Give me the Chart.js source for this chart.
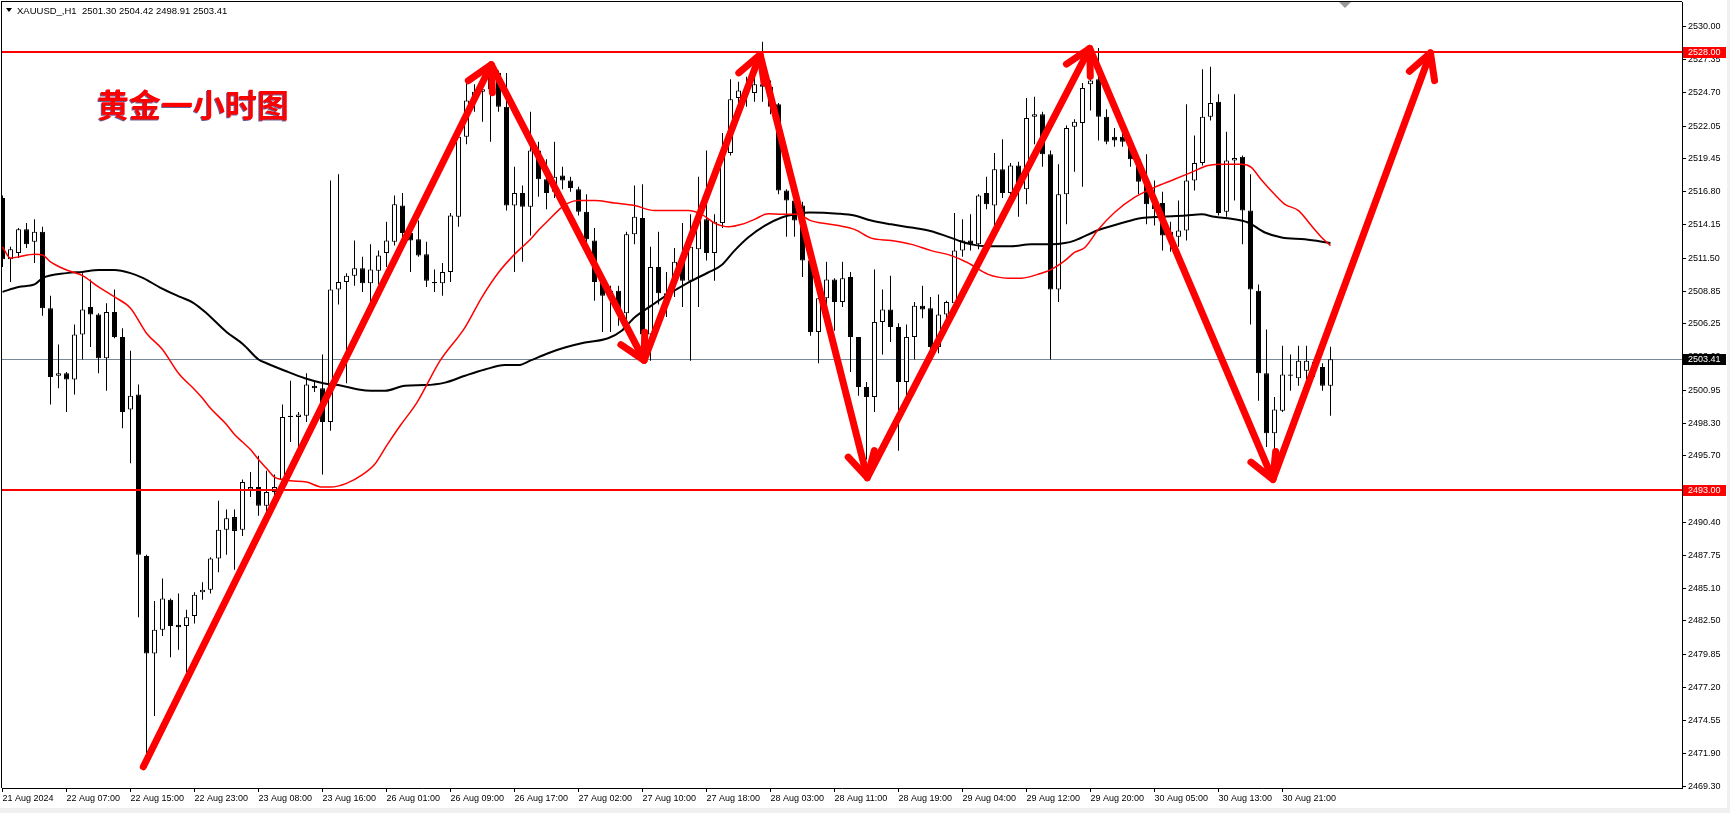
<!DOCTYPE html>
<html>
<head>
<meta charset="utf-8">
<script src="https://cdn.jsdelivr.net/npm/chart.js@4.4.1/dist/chart.umd.min.js"></script>
<style>
  html, body { margin: 0; padding: 0; background: #f0f0f0; }
  #wrap { width: 1730px; height: 813px; }
</style>
</head>
<body>
<div id="wrap"><canvas id="chart" width="1730" height="813"></canvas></div>
<script>
// ── Data ─────────────────────────────────────────────────────
const symbol = 'XAUUSD_,H1';
const title = '黄金一小时图';

const timeLabels = ['21 Aug 2024', '22 Aug 07:00', '22 Aug 15:00', '22 Aug 23:00', '23 Aug 08:00', '23 Aug 16:00',
  '26 Aug 01:00', '26 Aug 09:00', '26 Aug 17:00', '27 Aug 02:00', '27 Aug 10:00', '27 Aug 18:00', '28 Aug 03:00',
  '28 Aug 11:00', '28 Aug 19:00', '29 Aug 04:00', '29 Aug 12:00', '29 Aug 20:00', '30 Aug 05:00', '30 Aug 13:00',
  '30 Aug 21:00'];
const barsPerLabel = 8;

const priceTicks = [2530.00, 2527.35, 2524.70, 2522.05, 2519.45, 2516.80, 2514.15, 2511.50, 2508.85, 2506.25,
  2503.60, 2500.95, 2498.30, 2495.70, 2493.05, 2490.40, 2487.75, 2485.10, 2482.50, 2479.85, 2477.20, 2474.55,
  2471.90, 2469.30];

const opens = [
  2516.3, 2511.4, 2511.9, 2513.8, 2512.8, 2513.6, 2507.5, 2502.1, 2502.3, 2501.8,
  2505.4, 2507.6, 2507.0, 2503.5, 2507.2, 2505.2, 2499.4, 2500.6, 2487.7, 2479.9,
  2481.8, 2484.2, 2482.2, 2482.1, 2482.9, 2484.8, 2485.0, 2487.5, 2489.8, 2490.8,
  2489.8, 2493.0, 2493.2, 2491.7, 2492.8, 2493.8, 2498.8, 2498.8, 2498.9, 2501.3,
  2501.1, 2498.4, 2509.0, 2509.6, 2510.1, 2510.7, 2509.5, 2510.5, 2511.9, 2512.8,
  2515.7, 2513.5, 2513.0, 2511.8, 2509.6, 2509.5, 2510.4, 2514.8, 2521.2, 2524.1,
  2524.8, 2525.0, 2526.3, 2523.6, 2515.7, 2516.7, 2515.6, 2520.1, 2517.8, 2516.8,
  2518.1, 2517.7, 2517.0, 2515.2, 2512.9, 2509.6, 2508.5, 2508.9, 2507.1, 2513.4,
  2514.7, 2505.4, 2510.8, 2508.7, 2509.7, 2511.2, 2509.7, 2512.2, 2514.6, 2511.9,
  2514.3, 2519.9, 2524.3, 2524.9, 2524.7, 2525.4, 2525.2, 2523.8, 2516.9, 2516.1,
  2515.7, 2511.3, 2505.6, 2508.3, 2509.8, 2508.0, 2510.0, 2505.2, 2501.2, 2500.4,
  2506.4, 2507.4, 2506.0, 2501.6, 2505.2, 2507.7, 2507.5, 2504.4, 2507.0, 2507.9,
  2512.1, 2512.9, 2512.6, 2516.7, 2515.7, 2518.6, 2516.7, 2518.9, 2517.0, 2522.8,
  2523.0, 2519.8, 2509.0, 2516.6, 2522.0, 2522.3, 2525.4, 2525.8, 2522.8, 2521.2,
  2521.2, 2520.4, 2519.4, 2517.6, 2515.8, 2515.9, 2513.3, 2513.2, 2513.7, 2517.7,
  2519.1, 2522.8, 2524.0, 2515.2, 2519.3, 2519.6, 2515.3, 2508.9, 2502.3, 2497.5,
  2499.3, 2502.1, 2501.9, 2502.5, 2503.2, 2502.8, 2501.30];

const highs = [
  2516.5, 2512.4, 2513.9, 2514.3, 2514.6, 2514.0, 2508.5, 2504.6, 2502.4, 2506.2,
  2510.3, 2509.8, 2507.1, 2507.9, 2509.0, 2505.9, 2504.1, 2501.4, 2487.8, 2484.1,
  2485.9, 2484.3, 2484.7, 2483.4, 2484.8, 2485.6, 2487.6, 2492.1, 2491.4, 2491.4,
  2493.8, 2494.4, 2495.7, 2494.5, 2494.2, 2499.8, 2501.7, 2499.2, 2502.3, 2501.6,
  2503.8, 2517.7, 2518.2, 2510.3, 2512.9, 2511.6, 2512.6, 2512.1, 2514.4, 2516.5,
  2516.7, 2513.8, 2514.5, 2512.8, 2510.6, 2511.1, 2515.1, 2521.5, 2525.5, 2525.4,
  2525.7, 2526.6, 2526.5, 2526.3, 2518.8, 2517.3, 2523.2, 2520.8, 2519.4, 2520.8,
  2518.8, 2518.0, 2517.2, 2516.6, 2513.9, 2510.1, 2509.3, 2509.3, 2513.6, 2517.3,
  2517.4, 2512.4, 2513.6, 2510.4, 2512.3, 2514.3, 2515.0, 2518.0, 2520.1, 2515.0,
  2521.5, 2525.8, 2525.6, 2526.0, 2526.0, 2528.8, 2525.7, 2523.9, 2517.0, 2516.3,
  2516.0, 2511.5, 2508.5, 2511.2, 2509.9, 2511.2, 2510.4, 2505.2, 2501.6, 2510.6,
  2509.0, 2510.1, 2506.3, 2506.2, 2508.0, 2509.3, 2508.4, 2508.6, 2508.1, 2515.1,
  2514.6, 2515.0, 2516.6, 2518.0, 2519.9, 2521.0, 2519.1, 2519.2, 2524.3, 2524.4,
  2523.2, 2520.1, 2519.0, 2522.1, 2522.6, 2525.5, 2527.8, 2528.3, 2523.4, 2521.9,
  2522.2, 2520.9, 2519.6, 2519.8, 2517.7, 2516.8, 2514.4, 2516.1, 2523.8, 2521.3,
  2526.6, 2526.8, 2524.6, 2521.6, 2524.6, 2519.7, 2518.2, 2509.4, 2505.8, 2500.4,
  2504.5, 2503.8, 2504.5, 2504.5, 2503.5, 2503.1, 2504.42];

const lows = [
  2510.8, 2509.6, 2511.5, 2512.3, 2511.1, 2506.9, 2499.8, 2501.1, 2499.2, 2500.6,
  2503.4, 2504.4, 2502.3, 2500.9, 2505.1, 2497.9, 2495.1, 2482.8, 2470.9, 2474.9,
  2481.3, 2479.6, 2480.2, 2478.4, 2482.3, 2484.2, 2484.7, 2486.4, 2487.8, 2486.6,
  2489.3, 2492.4, 2490.9, 2491.2, 2492.4, 2493.1, 2496.8, 2496.2, 2498.4, 2500.8,
  2494.2, 2497.7, 2507.8, 2501.5, 2509.3, 2508.8, 2507.8, 2509.4, 2510.8, 2512.5,
  2512.9, 2510.4, 2511.6, 2509.2, 2508.8, 2508.5, 2509.6, 2514.0, 2520.6, 2523.2,
  2522.4, 2520.8, 2523.2, 2515.3, 2510.4, 2511.2, 2513.3, 2516.4, 2515.4, 2516.3,
  2517.0, 2516.8, 2514.9, 2512.7, 2508.1, 2505.6, 2505.6, 2506.1, 2506.5, 2512.6,
  2503.7, 2503.3, 2507.8, 2506.8, 2508.4, 2507.6, 2503.3, 2507.6, 2511.3, 2509.7,
  2513.9, 2519.7, 2523.6, 2523.6, 2524.0, 2524.0, 2523.0, 2516.6, 2513.2, 2513.2,
  2510.0, 2505.3, 2503.1, 2507.6, 2505.7, 2507.6, 2502.4, 2500.5, 2495.4, 2499.2,
  2503.8, 2504.8, 2496.1, 2500.4, 2503.4, 2506.7, 2503.7, 2503.9, 2506.5, 2507.7,
  2511.6, 2512.1, 2512.2, 2515.4, 2513.4, 2516.3, 2516.3, 2514.8, 2515.8, 2520.6,
  2518.8, 2503.4, 2508.0, 2514.2, 2518.4, 2517.2, 2523.3, 2520.9, 2520.6, 2520.4,
  2520.4, 2518.8, 2516.6, 2514.2, 2514.1, 2512.1, 2512.0, 2512.4, 2512.9, 2516.9,
  2518.9, 2522.5, 2514.9, 2514.8, 2516.1, 2512.6, 2506.2, 2500.1, 2496.4, 2496.1,
  2499.2, 2500.9, 2501.3, 2501.8, 2502.0, 2500.9, 2498.91];

const closes = [
  2511.4, 2512.2, 2513.8, 2512.6, 2513.6, 2507.5, 2502.0, 2502.3, 2501.8, 2505.4,
  2507.4, 2507.0, 2503.5, 2507.2, 2505.2, 2499.2, 2500.5, 2487.8, 2479.9, 2481.8,
  2484.3, 2482.1, 2482.0, 2482.8, 2484.6, 2485.0, 2487.5, 2489.8, 2490.7, 2489.7,
  2493.6, 2493.2, 2491.7, 2492.8, 2493.2, 2498.8, 2498.9, 2499.0, 2501.4, 2501.1,
  2498.4, 2509.0, 2509.6, 2510.1, 2510.7, 2509.5, 2510.6, 2511.7, 2512.9, 2515.8,
  2513.5, 2512.9, 2511.7, 2509.7, 2509.5, 2510.4, 2514.9, 2521.2, 2524.1, 2524.8,
  2525.0, 2526.0, 2523.6, 2515.7, 2516.7, 2515.6, 2520.1, 2517.8, 2516.7, 2518.0,
  2517.7, 2517.1, 2515.2, 2513.0, 2509.6, 2508.5, 2508.9, 2507.4, 2513.4, 2514.8,
  2505.4, 2510.8, 2508.7, 2508.5, 2511.2, 2509.7, 2512.4, 2514.6, 2511.9, 2514.4,
  2519.9, 2524.2, 2524.9, 2525.2, 2525.4, 2525.2, 2523.6, 2516.9, 2516.1, 2514.5,
  2511.3, 2505.6, 2508.3, 2509.8, 2508.0, 2509.9, 2505.2, 2501.2, 2500.4, 2506.4,
  2507.4, 2506.0, 2501.6, 2505.2, 2507.7, 2507.4, 2504.4, 2507.0, 2508.0, 2512.1,
  2512.9, 2512.6, 2516.5, 2515.8, 2518.6, 2516.7, 2518.9, 2517.0, 2522.7, 2523.0,
  2519.8, 2509.0, 2516.6, 2521.9, 2522.4, 2525.1, 2525.7, 2522.8, 2520.8, 2520.9,
  2520.8, 2519.4, 2517.6, 2515.8, 2515.4, 2513.3, 2513.6, 2513.7, 2517.7, 2519.1,
  2522.8, 2523.9, 2515.1, 2519.3, 2519.5, 2515.3, 2509.0, 2502.3, 2497.5, 2499.4,
  2502.2, 2502.2, 2503.3, 2503.3, 2502.9, 2501.3, 2503.41];

// moving averages, sampled along the drawn curves (bar index, price)
const redMaIdx = [0, 1, 2, 4, 5, 6, 8, 10, 12, 14, 16, 18, 20, 22, 24, 25, 26, 28, 29, 30, 31, 32, 33, 34, 35, 36,
  38, 40, 41, 43, 45, 46.5, 48, 49.7, 51.8, 54.7, 57.8, 59.9, 62, 64, 66, 67.1, 68.2, 69.9, 70.7, 72, 74, 76.5, 79,
  81.5, 84, 85.7, 87.4, 89, 90.8, 92.4, 94, 95.7, 97.4, 99.4, 101, 102.4, 104.5, 106.5, 108.6, 111.1, 113.6, 116.1,
  118.6, 120.6, 123.2, 125.7, 127.4, 129.4, 131.1, 132.8, 134, 135.3, 137, 139, 141.5, 144, 146.5, 148.6, 150.7,
  152.8, 154.9, 156.1, 157.3, 159, 160.3, 162, 163.6, 164.9, 166];
const redMaVal = [2512.4, 2511.5, 2511.6, 2511.8, 2511.75, 2511.2, 2510.55, 2510.1, 2509.2, 2508.4, 2507.5, 2505.5,
  2504.2, 2502.3, 2501.0, 2500.3, 2499.5, 2498.2, 2497.4, 2496.8, 2496.2, 2495.4, 2494.7, 2494.0, 2493.8, 2493.7,
  2493.6, 2493.2, 2493.2, 2493.5, 2494.2, 2495.0, 2496.5, 2498.1, 2499.95, 2503.3, 2505.95, 2508.35, 2510.35, 2511.8,
  2513.0, 2513.8, 2514.5, 2515.55, 2515.9, 2516.1, 2516.1, 2515.9, 2515.7, 2515.3, 2515.3, 2515.3, 2515.0, 2514.3,
  2514.0, 2514.2, 2514.6, 2515.05, 2515.0, 2515.0, 2514.5, 2514.3, 2514.1, 2513.8, 2513.1, 2512.9, 2512.6, 2512.1,
  2511.7, 2511.15, 2510.2, 2509.9, 2509.9, 2510.2, 2510.6, 2511.3, 2511.95, 2512.35, 2513.8, 2515.15, 2516.35,
  2517.15, 2517.8, 2518.35, 2518.9, 2519.0, 2519.0, 2518.75, 2517.8, 2516.6, 2515.8, 2515.3, 2514.1, 2513.15, 2512.5];

const blackMaIdx = [0, 2, 4, 5, 8, 10, 12, 14, 16, 17.6, 19.7, 22.2, 23.8, 25.5, 28, 30.1, 32, 33, 35.3, 37.8, 40.1,
  42.4, 44.5, 46.1, 47.8, 50.3, 52.8, 55.3, 57.8, 60.3, 62.8, 64.5, 66.1, 68.2, 70.3, 72.8, 75.7, 77.4, 79, 81.1,
  83.2, 85.7, 88.2, 89.9, 91.5, 93.2, 95.3, 97.4, 99.4, 100.9, 104.5, 106.5, 108.6, 111.1, 113.6, 116.1, 117.8, 119.5,
  121.1, 123.2, 126.1, 128.6, 131.1, 132.8, 134, 137, 139.9, 142.4, 144.9, 147.9, 149.9, 151.5, 153.6, 155.7, 157.8,
  159.9, 162.8, 166];
const blackMaVal = [2508.8, 2509.2, 2509.4, 2509.9, 2510.3, 2510.4, 2510.55, 2510.55, 2510.3, 2509.9, 2509.15,
  2508.4, 2507.95, 2507.1, 2505.6, 2504.6, 2503.4, 2503.1, 2502.5, 2501.9, 2501.5, 2501.3, 2501.0, 2500.9, 2500.9,
  2501.3, 2501.35, 2501.55, 2502.1, 2502.6, 2502.95, 2502.95, 2503.35, 2503.9, 2504.35, 2504.75, 2505.1, 2505.7,
  2506.75, 2507.7, 2508.6, 2509.55, 2510.35, 2510.95, 2512.1, 2513.15, 2514.1, 2514.75, 2515.05, 2515.15, 2515.05,
  2514.9, 2514.5, 2514.2, 2513.95, 2513.65, 2513.3, 2512.9, 2512.6, 2512.45, 2512.45, 2512.6, 2512.6, 2512.7,
  2512.9, 2513.75, 2514.3, 2514.7, 2514.8, 2514.9, 2515.0, 2514.8, 2514.65, 2514.35, 2513.55, 2513.15, 2513.0, 2512.7];

// hand-drawn zigzag arrow (bar index, price)
const arrowIdx = [17.6, 61.1, 80.2, 94.7, 108.1, 135.9, 158.8, 178.5];
const arrowPrice = [2470.85, 2526.96, 2503.33, 2527.76, 2493.95, 2528.26, 2493.81, 2527.9];

const levelPrices = [2528.00, 2493.00];
const bidPrice = 2503.41;

// ── Chart ────────────────────────────────────────────────────
Chart.defaults.font.family = '"Liberation Sans", Arial, sans-serif';
Chart.defaults.font.size = 9;
Chart.defaults.color = '#000';

const nBars = opens.length;
const wicks = opens.map((o, i) => ({ x: i, y: [lows[i], highs[i]] }));
const bodies = opens.map((o, i) => ({ x: i, y: [o, closes[i]] }));
const bodyFill = opens.map((o, i) => closes[i] >= o ? '#ffffff' : '#000000');

const overlay = {
  id: 'overlay',
  beforeDraw(chart) {
    const { ctx } = chart;
    ctx.save();
    ctx.fillStyle = '#ffffff';
    ctx.fillRect(0, 0, 1727, 808);
    ctx.restore();
  },
  beforeDatasetsDraw(chart) {
    const { ctx, chartArea: a, scales: { y } } = chart;
    const py = Math.round(y.getPixelForValue(bidPrice)) + 0.5;
    ctx.save();
    ctx.strokeStyle = '#778899';
    ctx.lineWidth = 1;
    ctx.beginPath(); ctx.moveTo(a.left, py); ctx.lineTo(a.right, py); ctx.stroke();
    ctx.restore();
  },
  afterDatasetsDraw(chart) {
    const { ctx, chartArea: a, scales: { y } } = chart;
    ctx.save();
    // support / resistance
    ctx.strokeStyle = '#ff0000';
    ctx.lineWidth = 2;
    for (const lv of levelPrices) {
      const py = Math.round(y.getPixelForValue(lv));
      ctx.beginPath(); ctx.moveTo(a.left, py); ctx.lineTo(a.right, py); ctx.stroke();
    }
    // arrow heads on every turn of the zigzag
    const pts = chart.getDatasetMeta(4).data;
    ctx.lineWidth = 7;
    ctx.lineCap = 'round';
    ctx.beginPath();
    for (let k = 1; k < pts.length; k++) {
      const p = pts[k], q = pts[k - 1];
      const back = Math.atan2(q.y - p.y, q.x - p.x);
      for (const s of [-1, 1]) {
        const ang = back + s * 0.5;
        ctx.moveTo(p.x, p.y);
        ctx.lineTo(p.x + 28 * Math.cos(ang), p.y + 28 * Math.sin(ang));
      }
    }
    ctx.stroke();
    ctx.restore();
  },
  afterDraw(chart) {
    const { ctx, chartArea: a, scales: { y } } = chart;
    ctx.save();
    // window frame (left and top)
    ctx.fillStyle = '#000';
    ctx.fillRect(1, 1, 1, a.bottom - 1);
    ctx.fillRect(1, 1, a.right - 1, 1);

    // header
    ctx.beginPath(); ctx.moveTo(6, 8); ctx.lineTo(12, 8); ctx.lineTo(9, 12); ctx.closePath(); ctx.fill();
    ctx.font = '9.5px "Liberation Sans"';
    ctx.textBaseline = 'middle';
    const n = nBars - 1;
    ctx.fillText(symbol + '  ' + [opens[n], highs[n], lows[n], closes[n]].map(v => v.toFixed(2)).join(' '), 17, 11);

    // chart shift marker
    ctx.fillStyle = '#9a9a9a';
    ctx.beginPath(); ctx.moveTo(1339, 2); ctx.lineTo(1351, 2); ctx.lineTo(1345, 8); ctx.closePath(); ctx.fill();

    // title
    ctx.font = 'bold 32px "Noto Sans CJK SC"';
    ctx.fillStyle = 'rgba(40,30,110,0.7)';
    ctx.fillText(title, 96, 106);
    ctx.fillStyle = '#ff0000';
    ctx.fillText(title, 97, 105);

    // price boxes on the axis
    ctx.font = '9px "Liberation Sans"';
    const box = (v, bg) => {
      const py = Math.round(y.getPixelForValue(v));
      ctx.fillStyle = bg;
      ctx.fillRect(a.right + 1, py - 5, 43, 11);
      ctx.fillStyle = '#ffffff';
      ctx.fillText(v.toFixed(2), a.right + 6, py + 0.5);
    };
    for (const lv of levelPrices) box(lv, '#ff0000');
    box(bidPrice, '#000000');
    ctx.restore();
  }
};

new Chart(document.getElementById('chart'), {
  type: 'bar',
  data: {
    datasets: [
      { data: wicks, backgroundColor: '#000', borderWidth: 0, grouped: false, maxBarThickness: 1,
        categoryPercentage: 1, barPercentage: 0.125, order: 5 },
      { data: bodies, backgroundColor: bodyFill, borderColor: '#000', borderWidth: 1, borderSkipped: false,
        grouped: false, maxBarThickness: 5, categoryPercentage: 1, barPercentage: 0.625, minBarLength: 1, order: 4 },
      { type: 'line', data: blackMaIdx.map((x, k) => ({ x, y: blackMaVal[k] })), borderColor: '#000',
        borderWidth: 2, pointRadius: 0, cubicInterpolationMode: 'monotone', order: 3 },
      { type: 'line', data: redMaIdx.map((x, k) => ({ x, y: redMaVal[k] })), borderColor: '#ff0000',
        borderWidth: 1.5, pointRadius: 0, cubicInterpolationMode: 'monotone', order: 2 },
      { type: 'line', data: arrowIdx.map((x, k) => ({ x, y: arrowPrice[k] })), borderColor: '#ff0000',
        borderWidth: 7, pointRadius: 0, tension: 0, borderJoinStyle: 'round', borderCapStyle: 'round', order: 1 }
    ]
  },
  options: {
    responsive: false,
    animation: false,
    devicePixelRatio: 1,
    layout: { padding: { left: 2, top: 2, right: 0, bottom: 0 } },
    plugins: { legend: { display: false }, tooltip: { enabled: false } },
    scales: {
      x: {
        type: 'linear', min: -0.0625, max: 209.9375, offset: false,
        grid: { offset: false, drawOnChartArea: false, drawTicks: true, tickLength: 4, tickColor: '#000' },
        border: { display: true, color: '#000', width: 1 },
        afterBuildTicks: s => { s.ticks = timeLabels.map((t, k) => ({ value: k * barsPerLabel })); },
        ticks: { autoSkip: false, maxRotation: 0, minRotation: 0, align: 'start', padding: 1,
          callback: v => timeLabels[Math.round(v / barsPerLabel)] },
        afterFit: s => { s.height = 25; s.paddingLeft = 0; s.paddingRight = 0; }
      },
      y: {
        type: 'linear', position: 'right', min: 2469.15, max: 2531.97, beginAtZero: false,
        grid: { drawOnChartArea: false, drawTicks: true, tickLength: 4, tickColor: '#000' },
        border: { display: true, color: '#000', width: 1 },
        afterBuildTicks: s => { s.ticks = priceTicks.map(v => ({ value: v })); },
        ticks: { autoSkip: false, padding: 2, callback: v => v.toFixed(2) },
        afterFit: s => { s.width = 48; s.paddingTop = 0; s.paddingBottom = 0; }
      }
    }
  },
  plugins: [overlay]
});
</script>
</body>
</html>
